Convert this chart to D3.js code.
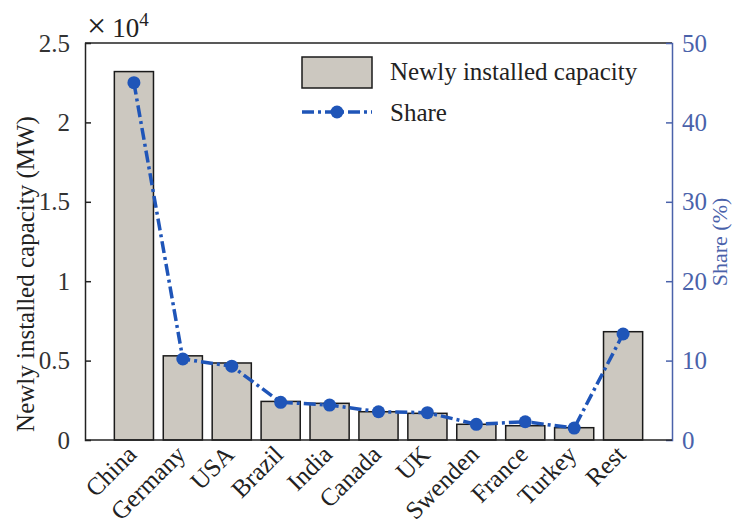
<!DOCTYPE html>
<html><head><meta charset="utf-8">
<script src="https://cdn.jsdelivr.net/npm/d3@7"></script>
<style>body{margin:0;background:#fff}svg{display:block}text{font-family:"Liberation Serif","Times New Roman",serif}</style>
</head><body><svg id="c" width="733" height="524"></svg>
<script>
const categories = ["China","Germany","USA","Brazil","India","Canada","UK","Swenden","France","Turkey","Rest"];
const capacity = [23200,5300,4850,2430,2310,1780,1680,990,900,775,6820];
const share = [45.0,10.2,9.3,4.75,4.4,3.56,3.44,1.98,2.3,1.5,13.35];
const leftTicks = [0,5000,10000,15000,20000,25000];
const leftTickLabels = ["0","0.5","1","1.5","2","2.5"];
const rightTicks = [0,10,20,30,40,50];

const svg = d3.select("#c");
const L=85,R=672,T=43,B=440;
const x = d3.scaleBand().domain(categories).range([L,R]).paddingInner(0.2).paddingOuter(0.6);
const y = d3.scaleLinear().domain([0,25000]).range([B,T]);
const y2 = d3.scaleLinear().domain([0,50]).range([B,T]);
const blue="#1f55b8", axisBlue="#4a62aa";

// bars
svg.append("g").selectAll("rect").data(categories).join("rect")
  .attr("x",d=>x(d)).attr("width",x.bandwidth())
  .attr("y",(d,i)=>y(capacity[i])).attr("height",(d,i)=>B-y(capacity[i]))
  .attr("fill","#ccc8c0").attr("stroke","#1a1a1a").attr("stroke-width",1.5);

// frame
svg.append("line").attr("x1",L).attr("x2",R).attr("y1",T).attr("y2",T).attr("stroke","#222").attr("stroke-width",1.5);

// left axis
const la = svg.append("g").attr("transform",`translate(${L},0)`)
  .call(d3.axisLeft(y).tickValues(leftTicks).tickSize(-6).tickPadding(15).tickFormat((d,i)=>leftTickLabels[i]));
la.select(".domain").attr("stroke","#222").attr("stroke-width",1.5);
la.selectAll(".tick line").attr("stroke","#222").attr("stroke-width",1.5).filter(d=>d===0||d===25000).remove();
la.selectAll(".tick text").attr("font-size",25).attr("fill","#333");

// right axis
const ra = svg.append("g").attr("transform",`translate(${R},0)`)
  .call(d3.axisRight(y2).tickValues(rightTicks).tickSize(-6).tickPadding(10));
ra.select(".domain").attr("stroke",axisBlue).attr("stroke-width",1.5);
ra.selectAll(".tick line").attr("stroke",axisBlue).attr("stroke-width",1.5).filter(d=>d===0||d===50).remove();
ra.selectAll(".tick text").attr("font-size",25).attr("fill",axisBlue);

// bottom axis line
svg.append("line").attr("x1",L).attr("x2",R).attr("y1",B).attr("y2",B).attr("stroke","#222").attr("stroke-width",1.5);

// share line
const line = d3.line().x((d,i)=>x(categories[i])+x.bandwidth()/2).y(d=>y2(d));
svg.append("path").datum(share).attr("d",line).attr("fill","none").attr("stroke",blue)
  .attr("stroke-width",3.5).attr("stroke-dasharray","12,4,3,4");
svg.append("g").selectAll("circle").data(share).join("circle")
  .attr("cx",(d,i)=>x(categories[i])+x.bandwidth()/2).attr("cy",d=>y2(d)).attr("r",6.5).attr("fill",blue);

// category labels
svg.append("g").selectAll("text").data(categories).join("text")
  .attr("transform",d=>`translate(${x(d)+x.bandwidth()/2+4},${B+16}) rotate(-45)`)
  .attr("text-anchor","end").attr("font-size",25).attr("fill","#222").text(d=>d);

// exponent label
const ex = svg.append("text").attr("x",87).attr("y",37).attr("font-size",27).attr("fill","#222");
ex.append("tspan").attr("font-size",34).text("×");
ex.append("tspan").attr("dx",6).text("10");
ex.append("tspan").attr("dy",-11).attr("font-size",19).text("4");

// axis titles
svg.append("text").attr("transform",`translate(34,${(115+433)/2}) rotate(-90)`).attr("text-anchor","middle")
  .attr("font-size",25).attr("fill","#222").text("Newly installed capacity (MW)");
svg.append("text").attr("transform",`translate(727,242) rotate(-90)`).attr("text-anchor","middle")
  .attr("font-size",22).attr("fill",axisBlue).text("Share (%)");

// legend
const lg = svg.append("g");
lg.append("rect").attr("x",302).attr("y",57).attr("width",70).attr("height",31).attr("fill","#ccc8c0").attr("stroke","#1a1a1a").attr("stroke-width",1.5);
lg.append("text").attr("x",390).attr("y",80).attr("font-size",25).attr("fill","#222").text("Newly installed capacity");
lg.append("line").attr("x1",302).attr("x2",372).attr("y1",112).attr("y2",112).attr("stroke",blue).attr("stroke-width",3.5).attr("stroke-dasharray","12,4,3,4");
lg.append("circle").attr("cx",337).attr("cy",112).attr("r",6.5).attr("fill",blue);
lg.append("text").attr("x",390).attr("y",121).attr("font-size",25).attr("fill","#222").text("Share");
</script></body></html>
